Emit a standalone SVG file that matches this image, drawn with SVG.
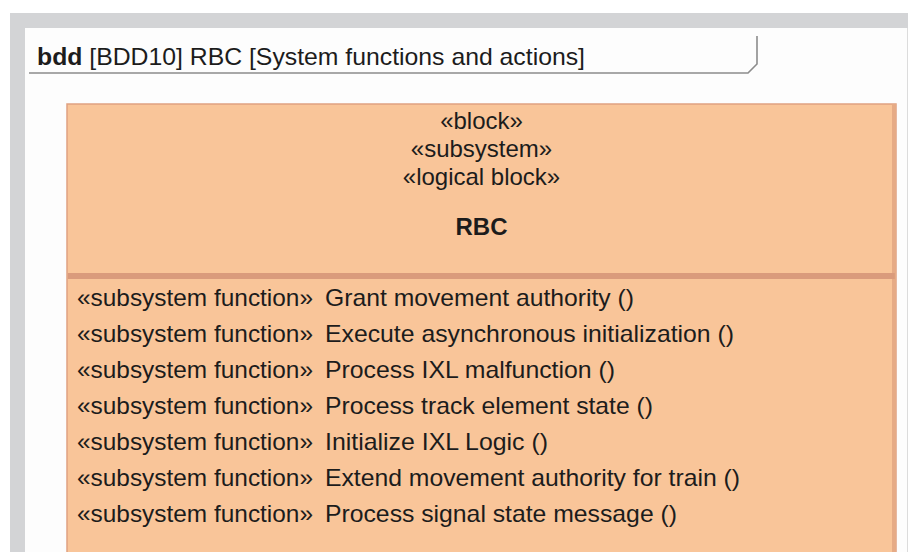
<svg xmlns="http://www.w3.org/2000/svg" width="908" height="552" viewBox="0 0 908 552">
  <style>
    .t { font-family: "Liberation Sans", Arial, Helvetica, sans-serif; font-size: 24px; fill: #1c1c1c; }
    .b { font-weight: bold; }
    .c { text-anchor: middle; }
  </style>
  <!-- canvas frame -->
  <rect x="0" y="0" width="908" height="552" fill="#ffffff"/>
  <rect x="10" y="13" width="898" height="539" fill="#d3d4d6"/>
  <rect x="25" y="28" width="882" height="524" fill="#fdfdfd"/>
  <line x1="907.5" y1="28" x2="907.5" y2="552" stroke="#dcdcdc" stroke-width="1"/>

  <!-- diagram frame heading -->
  <g id="frame-heading">
    <path d="M29 73 H748 L757 64 V36" fill="none" stroke="#8c8c8c" stroke-width="1.6"/>
    <text class="t" x="37" y="65" textLength="548" lengthAdjust="spacingAndGlyphs"><tspan class="b">bdd</tspan> [BDD10] RBC [System functions and actions]</text>
  </g>

  <!-- RBC block -->
  <g id="rbc-block">
    <rect x="67" y="104" width="829" height="460" fill="#f9c599" stroke="#dfa181" stroke-width="1.5"/>
    <rect x="892" y="104" width="4" height="460" fill="#e6ab86"/>
    <rect x="67.8" y="273" width="827" height="6" fill="#da9b7c"/>
    <text class="t c" x="481.5" y="129">«block»</text>
    <text class="t c" x="481.5" y="157">«subsystem»</text>
    <text class="t c" x="481.5" y="185">«logical block»</text>
    <text class="t b c" x="481.5" y="235">RBC</text>
    <g id="operations">
      <text class="t" x="77" y="306" textLength="236" lengthAdjust="spacingAndGlyphs">«subsystem function»</text>
      <text class="t" x="325" y="306" textLength="309" lengthAdjust="spacingAndGlyphs">Grant movement authority ()</text>
      <text class="t" x="77" y="342" textLength="236" lengthAdjust="spacingAndGlyphs">«subsystem function»</text>
      <text class="t" x="325" y="342" textLength="409" lengthAdjust="spacingAndGlyphs">Execute asynchronous initialization ()</text>
      <text class="t" x="77" y="378" textLength="236" lengthAdjust="spacingAndGlyphs">«subsystem function»</text>
      <text class="t" x="325" y="378" textLength="290" lengthAdjust="spacingAndGlyphs">Process IXL malfunction ()</text>
      <text class="t" x="77" y="414" textLength="236" lengthAdjust="spacingAndGlyphs">«subsystem function»</text>
      <text class="t" x="325" y="414" textLength="328" lengthAdjust="spacingAndGlyphs">Process track element state ()</text>
      <text class="t" x="77" y="450" textLength="236" lengthAdjust="spacingAndGlyphs">«subsystem function»</text>
      <text class="t" x="325" y="450" textLength="223" lengthAdjust="spacingAndGlyphs">Initialize IXL Logic ()</text>
      <text class="t" x="77" y="486" textLength="236" lengthAdjust="spacingAndGlyphs">«subsystem function»</text>
      <text class="t" x="325" y="486" textLength="415" lengthAdjust="spacingAndGlyphs">Extend movement authority for train ()</text>
      <text class="t" x="77" y="522" textLength="236" lengthAdjust="spacingAndGlyphs">«subsystem function»</text>
      <text class="t" x="325" y="522" textLength="352" lengthAdjust="spacingAndGlyphs">Process signal state message ()</text>
    </g>
  </g>
  <g id="connectors"/>
</svg>
